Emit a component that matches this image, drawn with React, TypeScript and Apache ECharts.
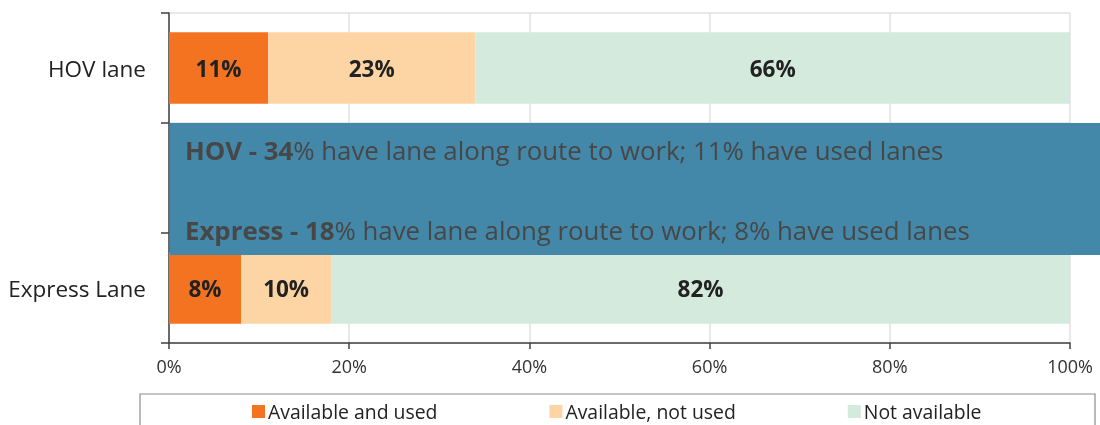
import React, { useEffect, useRef } from "react";
import * as echarts from "echarts";

const categories = ["Express Lane", "", "HOV lane"];
const seriesNames = ["Available and used", "Available, not used", "Not available"];
const availableUsed = [8, null, 11];
const availableNotUsed = [10, null, 23];
const notAvailable = [82, null, 66];
const xTicks = [0, 20, 40, 60, 80, 100];
const colors = ["#f47321", "#fdd5a5", "#d3eadc"];
const noteLines = [
  { bold: "HOV - 34", rest: "% have lane along route to work; 11% have used lanes" },
  { bold: "Express - 18", rest: "% have lane along route to work; 8% have used lanes" },
];

const FONT = "Open Sans";

export default function App() {
  const ref = useRef<HTMLDivElement>(null);
  useEffect(() => {
    if (!ref.current) return;
    const chart = echarts.init(ref.current, null, { renderer: "svg" });
    const values = [availableUsed, availableNotUsed, notAvailable];
    chart.setOption({
      animation: false,
      textStyle: { fontFamily: FONT },
      grid: { left: 169, right: 30, top: 13, bottom: 82, containLabel: false },
      xAxis: {
        type: "value",
        min: xTicks[0],
        max: xTicks[xTicks.length - 1],
        interval: 20,
        axisLine: { show: true, lineStyle: { color: "#404040", width: 1.5 } },
        axisTick: { show: true, length: 6, lineStyle: { color: "#404040", width: 1.5 } },
        axisLabel: { formatter: "{value}%", fontSize: 18, color: "#333", margin: 14, fontFamily: FONT },
        splitLine: { show: true, lineStyle: { color: "#e0e0e0", width: 1.5 } },
      },
      yAxis: {
        type: "category",
        data: categories,
        axisLine: { show: true, lineStyle: { color: "#404040", width: 1.5 } },
        axisTick: { show: true, length: 8, lineStyle: { color: "#404040", width: 1.5 } },
        axisLabel: { fontSize: 22.5, color: "#222", margin: 23, fontFamily: FONT },
        splitLine: { show: true, lineStyle: { color: "#e0e0e0", width: 1.5 } },
      },
      legend: {
        left: 247,
        top: 397,
        itemWidth: 13,
        itemHeight: 13,
        itemGap: 112,
        icon: "rect",
        textStyle: { fontSize: 19.4, color: "#222", fontFamily: FONT, padding: [0, 0, 0, -2] },
        data: seriesNames,
      },
      series: seriesNames.map((name, i) => ({
        name,
        type: "bar",
        stack: "total",
        barWidth: "65%",
        data: values[i],
        itemStyle: { color: colors[i] },
        label: {
          show: true,
          position: "inside",
          formatter: (p: any) => (p.value == null ? "" : p.value + "%"),
          fontSize: 22.5,
          fontWeight: "bold",
          color: "#222",
          fontFamily: FONT,
        },
      })),
      graphic: [
        {
          type: "rect",
          x: 140,
          y: 394,
          shape: { width: 955, height: 40 },
          style: { fill: "none", stroke: "#8c8c8c", lineWidth: 1.2 },
          z: -1,
        },
        {
          type: "rect",
          x: 170,
          y: 123,
          shape: { width: 930, height: 132 },
          style: { fill: "#4388a8" },
          z: 100,
        },
        ...noteLines.map((l, i) => ({
          type: "text",
          x: 185,
          y: 150 + i * 80,
          z: 101,
          style: {
            text: `{b|${l.bold}}{n|${l.rest}}`,
            verticalAlign: "middle",
            rich: {
              b: { fontSize: 25.8, fontWeight: "bold", fill: "#474747", fontFamily: FONT },
              n: { fontSize: 25.8, fill: "#474747", fontFamily: FONT },
            },
          },
        })),
      ],
    });
    return () => chart.dispose();
  }, []);
  return (
    <div
      ref={ref}
      style={{ width: 1100, height: 425, position: "fixed", left: 0, top: 0 }}
    />
  );
}
